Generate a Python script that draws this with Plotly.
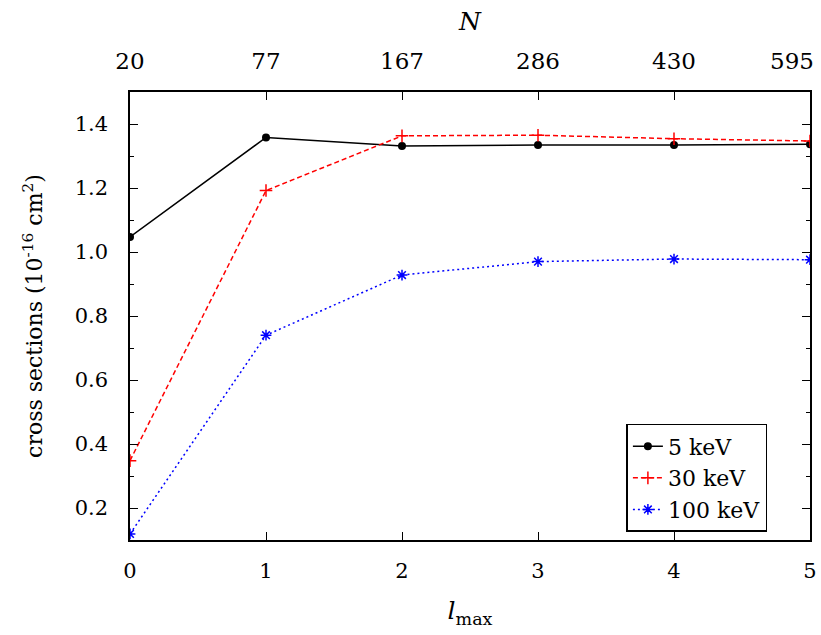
import plotly.graph_objects as go

# data
l_max = [0, 1, 2, 3, 4, 5]
N_labels = ["20", "77", "167", "286", "430", "595"]
cs_5keV = [1.047, 1.358, 1.331, 1.334, 1.334, 1.337]
cs_30keV = [0.348, 1.192, 1.363, 1.365, 1.354, 1.347]
cs_100keV = [0.119, 0.740, 0.928, 0.970, 0.978, 0.976]
y_ticks = [0.2, 0.4, 0.6, 0.8, 1.0, 1.2, 1.4]
y_ticktext = ["0.2", "0.4", "0.6", "0.8", "1.0", "1.2", "1.4"]

FONT = "DejaVu Serif"
fig = go.Figure()
fig.add_trace(go.Scatter(x=l_max, y=cs_5keV, name="5 keV", mode="lines+markers",
                         line=dict(color="black", width=1.5),
                         marker=dict(symbol="circle", size=8, color="black")))
fig.add_trace(go.Scatter(x=l_max, y=cs_30keV, name="30 keV", mode="lines+markers",
                         line=dict(color="red", width=1.5, dash="5px,3px"),
                         marker=dict(symbol="cross-thin-open", size=9,
                                     line=dict(color="red", width=1.5))))
fig.add_trace(go.Scatter(x=l_max, y=cs_100keV, name="100 keV", mode="lines+markers",
                         line=dict(color="blue", width=1.5, dash="2px,3px"),
                         marker=dict(symbol="asterisk-open", size=9,
                                     line=dict(color="blue", width=1.5))))
# invisible trace to anchor top axis
fig.add_trace(go.Scatter(x=l_max, y=[None] * len(l_max), xaxis="x2", showlegend=False,
                         hoverinfo="skip", mode="lines"))

axis_common = dict(showgrid=False, zeroline=False, showline=True, linecolor="black",
                   linewidth=1.5, ticks="inside", tickcolor="black", tickwidth=1,
                   automargin=False)

# last top label is pulled inside the figure (as in the original) via an annotation
top_ticktext = N_labels[:-1] + [""]

fig.update_layout(
    width=821, height=635,
    margin=dict(l=130, r=11, t=92, b=95),
    plot_bgcolor="white", paper_bgcolor="white",
    font=dict(family=FONT, size=21, color="black"),
    xaxis=dict(range=[0, 5], tickvals=l_max, ticklen=8, ticklabelstandoff=11,
               mirror=True, ticklabeloverflow="allow",
               tickfont=dict(family=FONT, size=21, color="black"),
               title=dict(text="<i>l</i><sub>max</sub>", standoff=20,
                          font=dict(family=FONT, size=25)),
               **axis_common),
    xaxis2=dict(range=[0, 5], overlaying="x", side="top", tickvals=l_max,
                ticktext=top_ticktext, ticklen=8, ticklabelstandoff=12,
                ticklabeloverflow="allow",
                tickfont=dict(family=FONT, size=23, color="black"),
                title=dict(text="<i>N</i>", standoff=10, font=dict(family=FONT, size=25)),
                **axis_common),
    yaxis=dict(range=[0.1, 1.5], tickvals=y_ticks, ticktext=y_ticktext,
               ticklen=8, mirror="ticks", ticklabelstandoff=16,
               tickfont=dict(family=FONT, size=21, color="black"),
               minor=dict(dtick=0.1, tick0=0.1, ticks="inside", ticklen=4,
                          tickcolor="black", tickwidth=1),
               title=dict(text="cross sections (10<sup>-16</sup> cm<sup>2</sup>)",
                          standoff=26, font=dict(family=FONT, size=22)),
               **axis_common),
    legend=dict(x=0.73, y=0.018, xanchor="left", yanchor="bottom",
                bordercolor="black", borderwidth=1.5, bgcolor="white",
                font=dict(family=FONT, size=22), tracegroupgap=0),
    showlegend=True,
)
fig.add_annotation(text=N_labels[-1], x=l_max[-1], xref="x2", y=1, yref="paper",
                   xanchor="right", yanchor="middle", xshift=6, yshift=31,
                   showarrow=False, font=dict(family=FONT, size=23, color="black"))
fig.write_html("out.html")
